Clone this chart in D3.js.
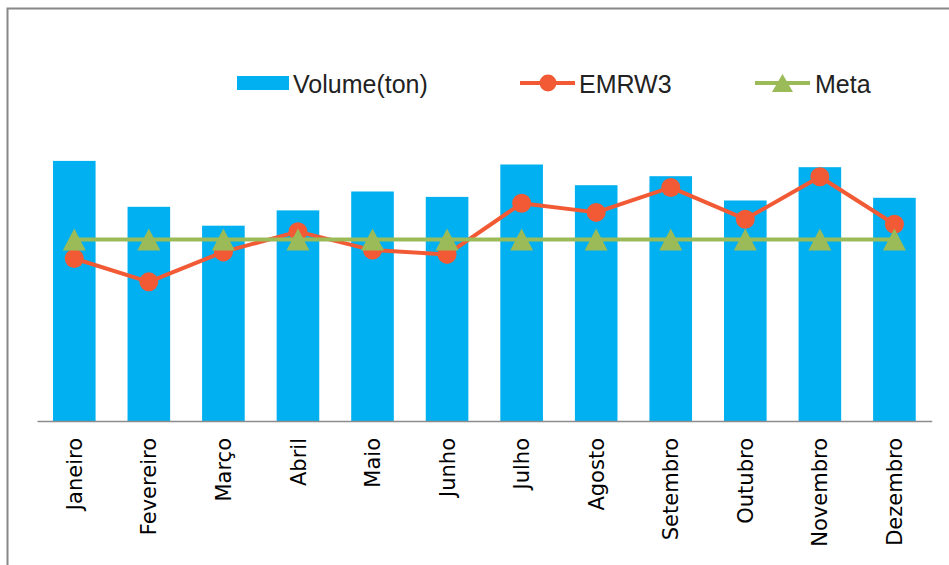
<!DOCTYPE html>
<html>
<head>
<meta charset="utf-8">
<script src="https://cdn.jsdelivr.net/npm/d3@7"></script>
<style>
  body { margin: 0; background: #fff; }
  svg { display: block; }
</style>
</head>
<body>
<svg id="chart" width="949" height="565"></svg>
<script>
// values
var months = ["Janeiro", "Fevereiro", "Março", "Abril", "Maio", "Junho",
              "Julho", "Agosto", "Setembro", "Outubro", "Novembro", "Dezembro"];
var volume = [289, 238, 217, 234, 255, 249, 285, 262, 272, 245, 282, 248];
var emrw3  = [0.716, 0.613, 0.745, 0.834, 0.753, 0.734, 0.959, 0.919, 1.029, 0.889, 1.076, 0.867];
var meta   = [0.80, 0.80, 0.80, 0.80, 0.80, 0.80, 0.80, 0.80, 0.80, 0.80, 0.80, 0.80];
var seriesNames = ["Volume(ton)", "EMRW3", "Meta"];

var colors = { bar: "#00B0F0", line: "#F15A35", meta: "#9BBB59" };

var svg = d3.select("#chart");
var baseY = 421, left = 37, right = 931.7;

// chart frame (only top and left show inside the window)
svg.append("rect")
    .attr("x", 7.5).attr("y", 8.5)
    .attr("width", 1200).attr("height", 1200)
    .attr("fill", "none").attr("stroke", "#888").attr("stroke-width", 2);

var x = d3.scaleBand().domain(months).range([left, right])
    .paddingInner(0.4286).paddingOuter(0.2143);
var y = d3.scaleLinear().domain([0, 350]).range([baseY, baseY - 315]);
var y2 = d3.scaleLinear().domain([0, 1]).range([baseY, baseY - 227]);

var cx = function (d, i) { return x(months[i]) + x.bandwidth() / 2; };

// bars
svg.append("g").selectAll("rect").data(volume).enter().append("rect")
    .attr("x", function (d, i) { return x(months[i]); })
    .attr("y", function (d) { return y(d); })
    .attr("width", x.bandwidth())
    .attr("height", function (d) { return baseY - y(d); })
    .attr("fill", colors.bar);

// x axis
var xAxis = svg.append("g").attr("transform", "translate(0," + baseY + ")")
    .call(d3.axisBottom(x).tickSize(0).tickPadding(0));
xAxis.select(".domain").attr("stroke", "#8c8c8c").attr("stroke-width", 1.5);
xAxis.selectAll("text")
    .attr("font-family", "DejaVu Sans, Verdana, sans-serif")
    .attr("font-size", 21)
    .attr("fill", "#000")
    .attr("text-anchor", "end")
    .attr("transform", "translate(0,17) rotate(-90)")
    .attr("x", 0).attr("y", 0).attr("dy", "0.36em");

// EMRW3 line
var line2 = d3.line().x(cx).y(function (d) { return y2(d); });
svg.append("path").datum(emrw3)
    .attr("d", line2).attr("fill", "none")
    .attr("stroke", colors.line).attr("stroke-width", 4).attr("stroke-linejoin", "round");
svg.append("g").selectAll("circle").data(emrw3).enter().append("circle")
    .attr("cx", cx).attr("cy", function (d) { return y2(d); })
    .attr("r", 9.5).attr("fill", colors.line);

// Meta line with triangles
function triangle(w, h) {
    return "M0," + (-h / 2) + "L" + (w / 2) + "," + (h / 2) + "L" + (-w / 2) + "," + (h / 2) + "Z";
}
svg.append("path").datum(meta)
    .attr("d", line2).attr("fill", "none")
    .attr("stroke", colors.meta).attr("stroke-width", 4);
svg.append("g").selectAll("path").data(meta).enter().append("path")
    .attr("d", triangle(23, 22))
    .attr("transform", function (d, i) { return "translate(" + cx(d, i) + "," + y2(d) + ")"; })
    .attr("fill", colors.meta);

// legend
var legend = svg.append("g").attr("font-family", "Liberation Sans, Arial, sans-serif")
    .attr("font-size", 25).attr("fill", "#222");
var legY = 83;
legend.append("rect").attr("x", 237).attr("y", legY - 7).attr("width", 52).attr("height", 14)
    .attr("fill", colors.bar);
legend.append("line").attr("x1", 520).attr("x2", 575).attr("y1", legY).attr("y2", legY)
    .attr("stroke", colors.line).attr("stroke-width", 4);
legend.append("circle").attr("cx", 548).attr("cy", legY).attr("r", 8.5).attr("fill", colors.line);
legend.append("line").attr("x1", 755).attr("x2", 810).attr("y1", legY).attr("y2", legY)
    .attr("stroke", colors.meta).attr("stroke-width", 4);
legend.append("path").attr("d", triangle(21, 18))
    .attr("transform", "translate(782.5," + legY + ")").attr("fill", colors.meta);

var legX = [293, 579, 815];
legend.selectAll("text").data(seriesNames).enter().append("text")
    .attr("x", function (d, i) { return legX[i]; })
    .attr("y", legY + 9.5)
    .text(function (d) { return d; });
</script>
</body>
</html>
